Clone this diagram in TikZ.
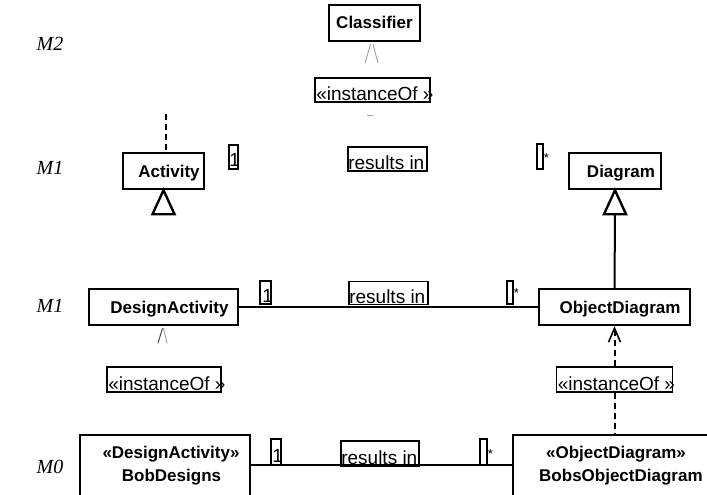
\documentclass[tikz,border=0pt]{standalone}
\usepackage{fontspec}
\setmainfont{Liberation Sans}
\newfontfamily\levelfont{Liberation Serif}
\usetikzlibrary{calc}

\begin{document}
\begin{tikzpicture}[x=1pt,y=-1pt,
  classbox/.style={draw, line width=2.4pt, inner sep=0pt, fill=white},
  classtext/.style={font=\fontsize{17}{20}\selectfont\bfseries, inner sep=0pt, anchor=base},
  tagbox/.style={draw, line width=1.8pt, inner sep=0pt},
  tagtext/.style={font=\fontsize{19}{22}\selectfont, inner sep=0pt, anchor=base west},
  startext/.style={font=\fontsize{13}{15}\selectfont, inner sep=0pt, anchor=base west},
  multbox/.style={draw, line width=1.5pt, inner sep=0pt},
  level/.style={font=\levelfont\itshape\fontsize{20}{24}\selectfont, inner sep=0pt},
  assoc/.style={line width=2pt},
  dep/.style={line width=2pt, dash pattern=on 6pt off 4pt},
  tri/.style={line width=2.4pt, fill=white, line join=miter},
  faint/.style={line width=1pt, draw=black!35},
  faintdark/.style={line width=1pt, draw=black!70},
]
\useasboundingbox (0,0) rectangle (707,495);
\clip (0,0) rectangle (707,495);

% level labels
\node[level] (lvM2) at (50,44) {M2};
\node[level] (lvM1a) at (50,168) {M1};
\node[level] (lvM1b) at (50,306) {M1};
\node[level] (lvM0) at (50,467) {M0};

% M2
\node[classbox, minimum width=91pt, minimum height=36pt] (cls) at (374.5,23) {};
\node[classtext] (cls-t) at ($(cls.center)+(0,6)$) {Classifier};
\node[tagbox, minimum width=115pt, minimum height=24pt] (i1) at (372.5,90) {};
\node[tagtext] (i1-t) at ($(i1.south west)+(2,-2)$) {«instanceOf »};
\draw[faint] ($(cls.south)+(-9.5,21)$) -- ($(cls.south)+(-4,2)$);
\draw[faint] ($(cls.south)+(3.5,21)$) -- ($(cls.south)+(-1.5,2)$);
\draw[faint] ($(i1.south)+(-6,13)$) -- ($(i1.south)+(0,13)$);

% M1, upper row
\node[classbox, minimum width=81pt, minimum height=36pt] (act) at (163.5,171) {};
\node[classtext] (act-t) at ($(act.center)+(5.5,6)$) {Activity};
\node[classbox, minimum width=92pt, minimum height=36pt] (dia) at (615,171) {};
\node[classtext] (dia-t) at ($(dia.center)+(6,6)$) {Diagram};

\node[multbox, minimum width=9pt, minimum height=24pt] (m1a) at (233.5,157) {};
\node[tagtext, anchor=base east] (m1a-t) at ($(m1a.south east)+(1.5,-3)$) {1};
\node[tagbox, minimum width=79pt, minimum height=24pt] (r1) at (387.5,159) {};
\node[tagtext] (r1-t) at ($(r1.south west)+(1,-2)$) {results in};
\node[multbox, minimum width=6pt, minimum height=25pt] (m1b) at (540,156.5) {};
\node[startext] (m1b-t) at ($(m1b.south east)+(0,-7)$) {*};

\coordinate (act-up) at (166,114);
\draw[dep] (act-up) -- (act-up |- act.north);
\draw[tri] (act.south) -- ++(-11,24) -- ++(22,0) -- cycle;

% M1, lower row
\node[classbox, minimum width=149pt, minimum height=36pt] (da) at (163.5,307) {};
\node[classtext] (da-t) at ($(da.center)+(6,6)$) {DesignActivity};
\node[classbox, minimum width=151pt, minimum height=36pt] (od) at (614.5,307) {};
\node[classtext] (od-t) at ($(od.center)+(5.5,6)$) {ObjectDiagram};

\draw[assoc] (da) -- (od);
\node[multbox, fill=white, minimum width=11pt, minimum height=23pt] (m2a) at (265.5,292.5) {};
\node[tagtext, anchor=base east] (m2a-t) at ($(m2a.south east)+(1.5,-2)$) {1};
\node[tagbox, fill=white, minimum width=79pt, minimum height=23pt] (r2) at (388.5,293) {};
\node[tagtext] (r2-t) at ($(r2.south west)+(1,-2)$) {results in};
\node[multbox, fill=white, minimum width=6pt, minimum height=23pt] (m2b) at (510,292.5) {};
\node[startext] (m2b-t) at ($(m2b.south east)+(0,-7)$) {*};

% generalisation ObjectDiagram -> Diagram
\draw[assoc] (od.north) -- ($(dia.south)+(0,24)$);
\draw[tri] (dia.south) -- ++(-11,24) -- ++(22,0) -- cycle;

% instanceOf labels
\node[tagbox, minimum width=114pt, minimum height=25pt] (i2) at (164,379.5) {};
\node[tagtext] (i2-t) at ($(i2.south west)+(2,-2)$) {«instanceOf »};
\draw[faintdark] ($(da.south)+(-5.5,17)$) -- ($(da.south)+(-1,2)$);
\draw[faint] ($(da.south)+(3.5,17)$) -- ($(da.south)+(0,2)$);

\node[tagbox, minimum width=116pt, minimum height=25pt] (i3) at (614.5,379.5) {};
\node[tagtext] (i3-t) at ($(i3.south west)+(2,-2)$) {«instanceOf »};

% M0
\node[classbox, minimum width=170pt, minimum height=90pt] (bob) at (165,480) {};
\node[classtext] (bob-s) at (171,458) {«DesignActivity»};
\node[classtext] (bob-t) at (171.5,481) {BobDesigns};
\node[classbox, minimum width=222pt, minimum height=90pt] (bobs) at (624,480) {};
\node[classtext] (bobs-s) at (616,458) {«ObjectDiagram»};
\node[classtext, anchor=base west] (bobs-t) at (539,481) {BobsObjectDiagram};

\draw[assoc] ($(bob.north east)+(0,31)$) -- ($(bobs.north west)+(0,31)$);
\node[multbox, fill=white, minimum width=10pt, minimum height=26pt] (m3a) at (276,452) {};
\node[tagtext, anchor=base east] (m3a-t) at ($(m3a.south east)+(1.5,-3)$) {1};
\node[tagbox, minimum width=78pt, minimum height=25pt] (r3) at (380,453.5) {};
\node[tagtext] (r3-t) at ($(r3.south west)+(1,-2)$) {results in};
\node[multbox, fill=white, minimum width=7pt, minimum height=26pt] (m3b) at (483.5,452) {};
\node[startext] (m3b-t) at ($(m3b.south east)+(0,-7)$) {*};

% instanceOf dependency ObjectDiagram <- BobsObjectDiagram
\draw[dep] (i3.north) -- ($(od.south)+(0,4)$);
\draw[dep] (i3.south) -- (i3.south |- bobs.north);
\draw[line width=1.6pt] ($(od.south)+(-6,16)$) -- ($(od.south)+(0,2)$) -- ($(od.south)+(6,16)$);
\end{tikzpicture}
\end{document}
